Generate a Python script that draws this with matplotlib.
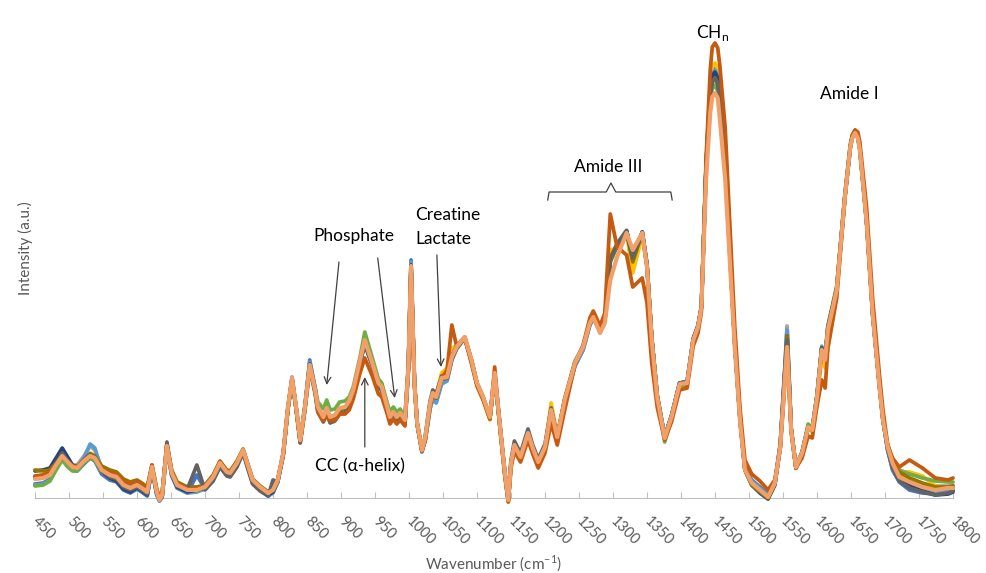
import matplotlib.pyplot as plt

plt.rcParams['font.family'] = ['Lato', 'DejaVu Sans']

# Raman shift grid (cm-1)
wavenumber = [
    450, 462, 472, 481, 490, 498, 505, 512, 522, 531, 538, 548, 560, 570, 580, 590, 600, 607, 615,
    622, 629, 633, 637, 644, 651, 659, 674, 688, 700, 712, 722, 732, 737, 747, 756, 763, 770, 781, 793, 800, 807,
    815, 822, 828, 834, 840, 847, 854, 862, 866, 874, 879, 884, 891, 898, 906, 912, 918, 928, 935, 946, 955, 960,
    968, 972, 977, 982, 987, 994, 999,
    1003, 1008, 1012, 1019, 1024, 1031, 1035, 1040, 1048, 1056, 1063, 1070, 1082, 1092, 1100, 1109, 1119, 1126,
    1134, 1141,
    1146, 1150, 1155, 1164, 1175, 1182, 1190, 1200, 1209, 1218, 1229, 1244, 1256, 1266, 1271, 1281, 1288,
    1296, 1306, 1320, 1329, 1343, 1350, 1357, 1365, 1376, 1386, 1398, 1409, 1418, 1425,
    1430, 1437, 1443, 1446, 1450, 1454, 1457, 1465, 1472, 1479, 1487, 1494,
    1504, 1516, 1528, 1538, 1546, 1551, 1556, 1562, 1569, 1578, 1587, 1593,
    1600, 1607, 1612, 1616, 1629, 1641, 1649, 1652, 1656, 1660, 1663, 1673, 1682, 1692, 1697,
    1704, 1711, 1721, 1736, 1755, 1774, 1793, 1800]

# intensities (a.u.), one list per spectrum
blue = [
    14, 15, 19, 31, 44, 34, 28, 27, 34, 40, 37, 24, 18, 16, 8, 5, 9, 6, 2,
    29, 3, -3, 1, 50, 22, 10, 5, 23, 9, 19, 33, 24, 22, 33, 46, 31, 15, 8, 2, 6, 16,
    43, 90, 119, 90, 56, 92, 138, 110, 90, 80, 88, 80, 81, 88, 89, 95, 106, 136, 155, 133, 113, 109, 90, 80, 84,
    80, 83, 76, 131,
    238, 117, 74, 46, 58, 90, 100, 96, 116, 118, 138, 149, 160, 137, 114, 100, 80, 123, 70, 24,
    -3, 34, 52, 40, 64, 49, 35, 50, 86, 59, 95, 132, 148, 173, 180, 166, 178,
    240, 253, 267, 238, 266, 233, 160, 103, 62, 82, 115, 116, 159, 172,
    192, 335, 410, 426, 430, 424, 405, 335, 245, 156, 78, 30,
    18, 11, 4, 16, 54, 109, 171, 70, 32, 46, 72, 69,
    103, 150, 140, 170, 210, 302, 352, 361, 366, 361, 349, 276, 183, 111, 78,
    48, 28, 16, 8, 5, 4, 7, 8]
gray = [
    21, 22, 25, 35, 45, 38, 33, 33, 42, 52, 48, 30, 25, 22, 15, 12, 14, 11, 8,
    30, 7, 0, 4, 53, 26, 14, 9, 10, 12, 22, 36, 27, 26, 36, 48, 34, 19, 12, 6, 8, 19,
    44, 90, 119, 90, 57, 90, 134, 107, 88, 79, 86, 79, 80, 87, 88, 95, 106, 137, 157, 135, 116, 112, 92, 83, 87,
    82, 86, 79, 131,
    234, 116, 75, 48, 60, 93, 102, 98, 117, 119, 140, 150, 160, 137, 114, 100, 80, 124, 70, 24,
    -2, 35, 53, 41, 65, 50, 36, 51, 90, 62, 99, 137, 152, 176, 182, 170, 180,
    238, 255, 268, 235, 266, 234, 160, 102, 60, 82, 115, 116, 160, 173,
    191, 332, 406, 421, 425, 419, 400, 332, 243, 155, 77, 28,
    14, 6, 0, 14, 52, 108, 172, 69, 30, 44, 71, 69,
    103, 152, 142, 172, 210, 302, 352, 361, 366, 361, 349, 276, 183, 111, 79,
    50, 33, 22, 18, 14, 12, 12, 13]
gold = [
    22, 23, 26, 36, 44, 37, 32, 31, 38, 45, 43, 31, 27, 25, 17, 14, 16, 13, 9,
    32, 8, 0, 4, 54, 27, 15, 10, 10, 12, 22, 36, 27, 26, 36, 48, 33, 18, 11, 5, 8, 18,
    44, 90, 118, 89, 56, 89, 132, 106, 89, 80, 88, 80, 82, 89, 90, 96, 107, 137, 156, 133, 113, 108, 89, 78, 83,
    78, 82, 75, 128,
    230, 114, 74, 47, 60, 95, 106, 104, 125, 130, 150, 152, 160, 136, 112, 98, 78, 124, 68, 22,
    -4, 33, 51, 38, 62, 47, 33, 50, 95, 63, 100, 136, 150, 174, 180, 172, 180,
    248, 250, 264, 225, 262, 232, 161, 104, 61, 82, 113, 114, 157, 170,
    192, 338, 415, 431, 435, 429, 408, 338, 248, 158, 80, 32,
    13, 6, -1, 13, 52, 106, 160, 69, 30, 44, 70, 66,
    96, 140, 130, 150, 204, 300, 352, 362, 367, 362, 350, 277, 184, 112, 79,
    54, 38, 26, 26, 22, 12, 10, 10]
light_blue = [
    13, 14, 18, 29, 40, 32, 28, 29, 40, 54, 50, 28, 20, 17, 9, 6, 9, 7, 3,
    29, 4, -3, 1, 51, 23, 10, 5, 6, 9, 19, 33, 25, 23, 33, 46, 31, 16, 8, 2, 5, 16,
    44, 91, 121, 91, 58, 92, 136, 109, 89, 79, 87, 79, 81, 88, 89, 95, 106, 137, 157, 134, 114, 110, 90, 80, 85,
    80, 84, 77, 130,
    236, 116, 74, 47, 58, 89, 99, 95, 114, 117, 138, 150, 160, 137, 114, 100, 80, 123, 70, 24,
    -3, 34, 52, 40, 64, 49, 35, 50, 87, 60, 96, 132, 148, 173, 180, 168, 179,
    236, 252, 266, 240, 265, 232, 159, 102, 61, 82, 115, 116, 159, 172,
    191, 334, 408, 424, 428, 422, 403, 334, 244, 155, 77, 29,
    17, 10, 3, 15, 53, 108, 168, 69, 31, 45, 71, 69,
    102, 151, 141, 171, 209, 301, 351, 361, 366, 361, 349, 276, 183, 111, 78,
    47, 30, 18, 12, 8, 5, 6, 8]
green = [
    12, 13, 17, 28, 38, 31, 27, 27, 35, 40, 38, 26, 22, 21, 14, 11, 13, 9, 5,
    30, 5, -2, 2, 51, 24, 12, 7, 7, 10, 20, 34, 25, 24, 34, 47, 32, 17, 10, 4, 6, 17,
    44, 90, 119, 90, 58, 92, 133, 110, 96, 89, 98, 88, 89, 96, 97, 101, 111, 141, 166, 140, 119, 115, 95, 86, 91,
    86, 89, 80, 130,
    232, 115, 74, 47, 59, 93, 104, 101, 120, 121, 141, 151, 160, 137, 114, 100, 79, 123, 69, 23,
    -3, 34, 52, 40, 64, 49, 35, 50, 88, 61, 98, 135, 151, 175, 181, 168, 178,
    236, 252, 266, 238, 265, 232, 159, 101, 56, 79, 112, 113, 157, 170,
    190, 330, 400, 409, 413, 407, 392, 328, 241, 154, 76, 28,
    14, 6, 0, 14, 51, 104, 160, 68, 30, 46, 74, 70,
    102, 150, 142, 172, 212, 304, 354, 363, 368, 363, 350, 276, 183, 111, 79,
    52, 38, 28, 24, 20, 17, 16, 16]
dark_blue = [
    27, 28, 30, 40, 50, 41, 33, 31, 38, 44, 41, 27, 20, 17, 9, 6, 10, 7, 3,
    30, 5, -2, 2, 52, 24, 11, 6, 8, 10, 20, 34, 25, 24, 34, 47, 32, 17, 9, 3, 6, 17,
    44, 90, 119, 90, 57, 91, 134, 108, 90, 80, 88, 80, 81, 88, 89, 95, 106, 137, 156, 134, 113, 109, 89, 79, 84,
    79, 83, 76, 129,
    233, 116, 75, 48, 60, 94, 103, 100, 119, 120, 140, 150, 160, 137, 114, 100, 80, 123, 70, 24,
    -2, 35, 53, 41, 65, 50, 36, 51, 88, 61, 98, 135, 151, 175, 181, 167, 177,
    238, 253, 267, 240, 266, 233, 160, 102, 61, 82, 115, 116, 159, 172,
    191, 333, 407, 422, 426, 420, 402, 333, 244, 155, 77, 28,
    13, 5, -1, 13, 51, 105, 162, 69, 30, 45, 71, 68,
    102, 150, 140, 170, 209, 301, 351, 361, 366, 361, 349, 276, 183, 111, 78,
    50, 34, 20, 12, 7, 3, 4, 6]
dark_gold = [
    28, 27, 28, 35, 43, 37, 32, 31, 38, 44, 42, 32, 28, 26, 19, 16, 18, 15, 11,
    33, 9, 1, 5, 54, 28, 16, 11, 11, 13, 23, 37, 28, 27, 37, 49, 34, 19, 12, 6, 8, 18,
    44, 90, 118, 89, 56, 90, 133, 107, 89, 80, 88, 80, 82, 88, 89, 95, 106, 136, 155, 133, 113, 109, 89, 79, 84,
    79, 83, 76, 129,
    232, 115, 74, 47, 60, 94, 103, 100, 119, 120, 140, 150, 160, 137, 114, 100, 80, 123, 70, 24,
    -3, 34, 52, 40, 64, 49, 35, 50, 88, 61, 98, 135, 151, 175, 181, 168, 178,
    238, 252, 266, 236, 265, 232, 159, 101, 60, 81, 114, 115, 158, 171,
    190, 332, 404, 416, 420, 414, 397, 331, 243, 155, 77, 28,
    13, 6, 0, 14, 52, 106, 162, 69, 30, 45, 71, 68,
    101, 149, 140, 170, 209, 301, 351, 361, 366, 361, 349, 276, 183, 111, 78,
    51, 36, 26, 20, 15, 11, 11, 12]
dark_gray = [
    20, 21, 24, 35, 45, 37, 31, 30, 37, 43, 41, 27, 21, 19, 11, 8, 11, 8, 4,
    30, 5, -2, 2, 56, 25, 12, 9, 33, 8, 17, 31, 22, 21, 31, 45, 29, 14, 7, 2, 18, 16,
    42, 88, 118, 89, 55, 88, 130, 104, 86, 76, 84, 75, 77, 84, 85, 92, 104, 135, 153, 132, 112, 107, 87, 77, 82,
    77, 80, 74, 128,
    232, 115, 75, 48, 62, 97, 108, 104, 122, 122, 142, 152, 161, 138, 115, 101, 81, 125, 72, 26,
    0, 38, 57, 45, 69, 53, 39, 54, 90, 62, 98, 135, 151, 175, 181, 167, 178,
    240, 254, 267, 240, 266, 234, 160, 102, 61, 82, 115, 116, 159, 172,
    191, 334, 402, 416, 420, 414, 398, 333, 244, 155, 77, 29,
    15, 7, 1, 15, 54, 112, 158, 70, 31, 45, 71, 68,
    101, 149, 139, 169, 209, 301, 351, 361, 366, 361, 349, 276, 183, 111, 78,
    48, 30, 17, 10, 6, 3, 5, 7]
dark_orange = [
    22, 23, 26, 34, 41, 36, 32, 31, 37, 41, 40, 29, 25, 24, 17, 14, 16, 13, 9,
    33, 8, 0, 4, 52, 26, 14, 9, 9, 12, 22, 36, 27, 26, 36, 48, 33, 18, 11, 5, 8, 18,
    45, 90, 119, 90, 57, 90, 132, 106, 86, 77, 84, 77, 78, 84, 84, 88, 99, 125, 140, 122, 104, 101, 84, 74, 79,
    74, 78, 72, 125,
    230, 114, 74, 47, 58, 92, 104, 104, 120, 128, 173, 152, 160, 134, 112, 98, 79, 131, 68, 22,
    -4, 30, 47, 36, 58, 44, 30, 45, 75, 53, 88, 133, 153, 180, 187, 172, 185,
    284, 251, 243, 211, 220, 195, 135, 91, 58, 76, 108, 110, 152, 165,
    186, 340, 428, 451, 455, 450, 433, 370, 270, 172, 88, 38,
    24, 17, 8, 18, 50, 98, 150, 66, 30, 40, 62, 60,
    92, 118, 110, 150, 200, 300, 352, 363, 368, 366, 356, 290, 198, 122, 88,
    53, 40, 31, 38, 30, 20, 18, 20]
light_orange = [
    19, 20, 23, 33, 42, 36, 31, 30, 37, 42, 40, 28, 23, 21, 13, 10, 13, 10, 6,
    31, 6, -2, 3, 52, 25, 13, 8, 8, 11, 21, 35, 26, 25, 35, 48, 33, 18, 11, 5, 8, 18,
    45, 91, 120, 91, 58, 91, 133, 108, 91, 81, 90, 81, 83, 90, 91, 97, 108, 138, 158, 135, 115, 111, 91, 81, 86,
    81, 85, 78, 130,
    232, 115, 75, 48, 61, 95, 105, 101, 120, 121, 141, 151, 161, 138, 115, 101, 81, 125, 71, 25,
    -2, 35, 53, 41, 65, 50, 36, 51, 88, 61, 98, 135, 151, 175, 181, 165, 175,
    218, 241, 265, 248, 265, 231, 158, 101, 60, 81, 114, 115, 158, 171,
    190, 320, 385, 401, 405, 400, 380, 318, 235, 151, 75, 28,
    15, 8, 1, 15, 51, 101, 151, 68, 31, 45, 71, 68,
    101, 148, 138, 168, 208, 301, 351, 360, 365, 360, 348, 275, 182, 110, 78,
    51, 35, 21, 16, 11, 8, 10, 10]

xticks = list(range(450, 1801, 50))

spectra = [
    (blue, '#4472C4'), (gray, '#A5A5A5'), (gold, '#FFC000'),
    (light_blue, '#5B9BD5'), (green, '#70AD47'), (dark_blue, '#264478'),
    (dark_gold, '#997300'), (dark_gray, '#636363'), (dark_orange, '#C55A11'),
    (light_orange, '#F2A06A'),
]

fig = plt.figure(figsize=(9.87, 5.73), dpi=100)
ax = fig.add_axes([35 / 987, 75 / 573, 918 / 987, 478 / 573])

for vals, col in spectra:
    lw = 3.0 if col == '#F2A06A' else 2.7
    ax.plot(wavenumber, vals, color=col, lw=lw, clip_on=False,
            solid_joinstyle='round', solid_capstyle='round')

ax.set_xlim(450, 1800)
ax.set_ylim(0, 478)
ax.set_yticks([])
for s in ['top', 'right', 'left']:
    ax.spines[s].set_visible(False)
ax.spines['bottom'].set_color('#BFBFBF')
ax.spines['bottom'].set_zorder(0)
ax.set_xticks(xticks)
ax.set_xticklabels([str(t) for t in xticks], rotation=-45, ha='left',
                   va='center', rotation_mode='anchor')
ax.tick_params(axis='x', direction='in', length=4, color='#BFBFBF',
               labelcolor='#595959', labelsize=10.5, pad=15)

fig.text(494 / 987, 1 - 564 / 573, 'Wavenumber (cm$^{\\mathregular{-1}}$)',
         ha='center', va='center', fontsize=11, color='#595959')
fig.text(25 / 987, 1 - 248 / 573, 'Intensity (a.u.)', rotation=90,
         ha='center', va='center', fontsize=11, color='#595959')

# peak labels
lab = dict(ha='center', va='center', fontsize=12.5, color='black')
ax.text(1446, 465, 'CH$_{\\mathregular{n}}$', **lab)
ax.text(1647, 404, 'Amide I', **lab)
ax.text(1293, 331, 'Amide III', **lab)
ax.text(919, 262, 'Phosphate', **lab)
ax.text(1009, 283, 'Creatine', ha='left', va='center', fontsize=12.5)
ax.text(1009, 259, 'Lactate', ha='left', va='center', fontsize=12.5)
ax.text(928, 32, 'CC (\u03b1-helix)', **lab)

# brace over the amide III region
ax.plot([1204, 1206, 1290, 1297, 1304, 1385, 1387],
        [298, 306, 306, 315, 306, 306, 298],
        color='#404040', lw=0.9, clip_on=False)

arrow = dict(arrowstyle='->', color='#404040', lw=0.9,
             shrinkA=0, shrinkB=0, mutation_scale=12)
ax.annotate('', xy=(879, 113), xytext=(897, 236), arrowprops=arrow)
ax.annotate('', xy=(979, 100), xytext=(954, 240), arrowprops=arrow)
ax.annotate('', xy=(1047, 131), xytext=(1041, 243), arrowprops=arrow)
ax.annotate('', xy=(935, 121), xytext=(935, 51), arrowprops=arrow)

fig.savefig('out.png', dpi=100)
